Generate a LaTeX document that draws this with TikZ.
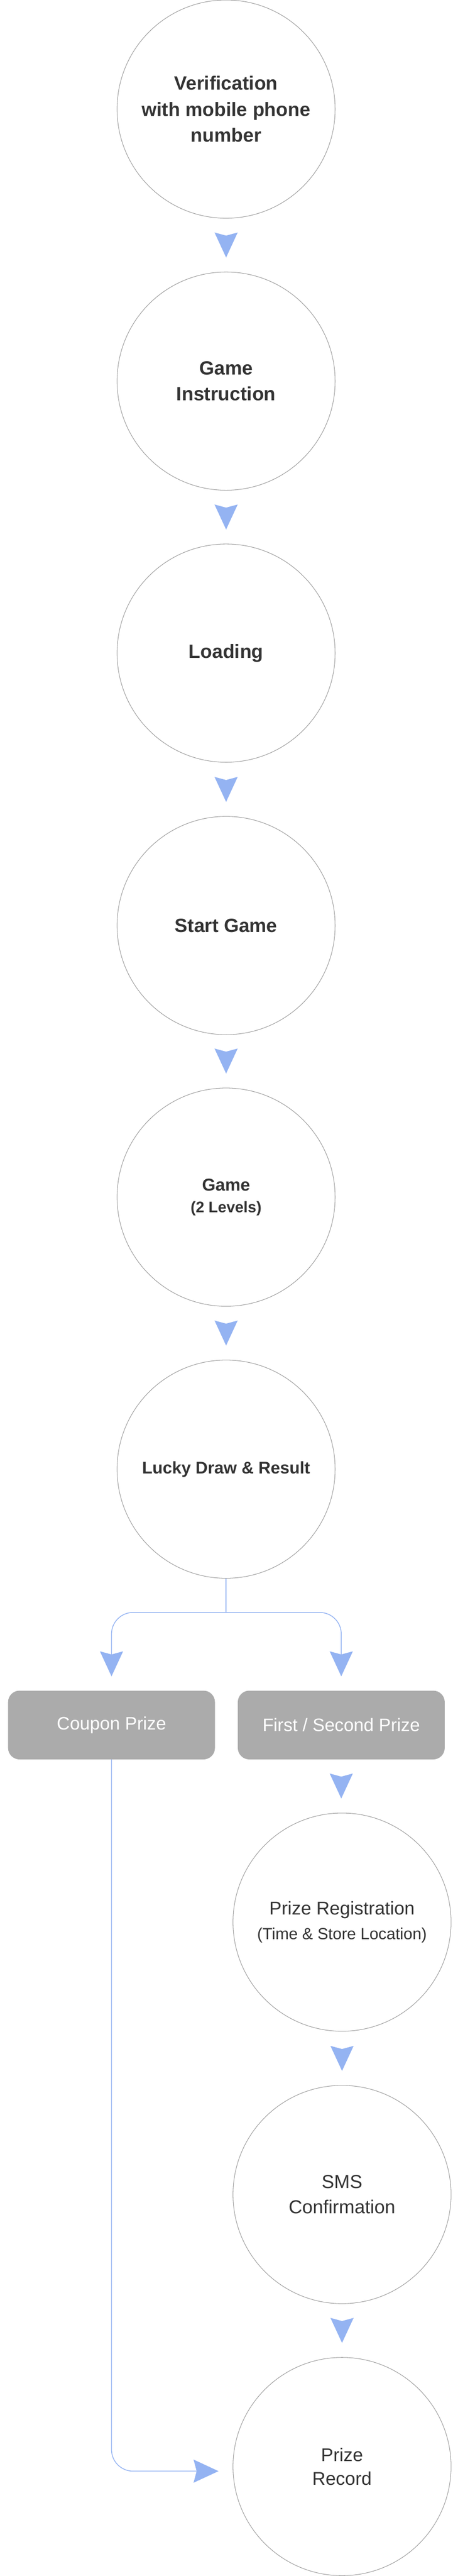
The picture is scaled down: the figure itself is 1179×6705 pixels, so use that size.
\documentclass[tikz,border=0pt]{standalone}
\usepackage{fontspec}
\setmainfont{Liberation Sans}
\usetikzlibrary{arrows.meta}
\definecolor{ring}{HTML}{9C9C9C}
\definecolor{flow}{HTML}{94B3F2}
\definecolor{boxgray}{HTML}{ABABAB}
\definecolor{ink}{HTML}{333333}
\begin{document}
\begin{tikzpicture}[x=1pt,y=-1pt,
  stage/.style={circle, draw=ring, line width=1.4pt, minimum size=568pt, inner sep=0pt, align=center, text=ink},
  prizebox/.style={rectangle, rounded corners=30pt, fill=boxgray, minimum width=539pt, minimum height=179pt, inner sep=0pt, text=white, font=\fontsize{47}{56}\selectfont},
  tip/.style={-{Stealth[length=65pt,width=60pt,inset=8pt]}, draw=flow, line width=2pt},
  floattip/.style={tip, shorten <=45pt, shorten >=37pt},
  link/.style={draw=flow, line width=2pt, rounded corners=56pt},
]
\useasboundingbox (0,0) rectangle (1179,6705);

% main column
\node[stage, font=\fontsize{50}{68}\selectfont\bfseries] (c1) at (589,284) {Verification\\with mobile phone\\number};
\node[stage, font=\fontsize{50}{68}\selectfont\bfseries] (c2) at (589,992) {Game\\Instruction};
\node[stage, font=\fontsize{50}{68}\selectfont\bfseries] (c3) at (589,1700) {Loading};
\node[stage, font=\fontsize{50}{68}\selectfont\bfseries] (c4) at (589,2409) {Start Game};
\node[stage, font=\fontsize{45}{57}\selectfont\bfseries] (c5) at (589,3116) {Game\\{\fontsize{40}{57}\selectfont (2 Levels)}};
\node[stage, font=\fontsize{44}{60}\selectfont\bfseries] (c6) at (589,3824) {Lucky Draw \& Result};

\draw[floattip] (c1) -- (c2);
\draw[floattip] (c2) -- (c3);
\draw[floattip] (c3) -- (c4);
\draw[floattip] (c4) -- (c5);
\draw[floattip] (c5) -- (c6);

% prize boxes
\node[prizebox] (b1) at (290.5,4490) {Coupon Prize};
\node[prizebox] (b2) at (889,4490) {First / Second Prize};

\coordinate (split) at (589,4197);
\draw[link] (c6.south) -- (split);
\draw[link, tip, shorten >=37pt] (split) -| (b1.north);
\draw[link, tip, shorten >=37pt] (split) -| (b2.north);

% right column
\node[stage, font=\fontsize{48}{64}\selectfont] (c7) at (891,5003) {Prize Registration\\{\fontsize{42}{64}\selectfont(Time \& Store Location)}};
\node[stage, font=\fontsize{49}{66}\selectfont] (c8) at (891,5712) {SMS\\Confirmation};
\node[stage, font=\fontsize{48}{62}\selectfont] (c9) at (891,6420) {Prize\\Record};

\draw[floattip] (b2.south) -- (b2.south |- c7.north);
\draw[floattip] (c7) -- (c8);
\draw[floattip] (c8) -- (c9);

% coupon path to record
\draw[link, tip, shorten >=37pt] (b1.south) |- ([yshift=-12pt]c9.west);
\end{tikzpicture}
\end{document}
